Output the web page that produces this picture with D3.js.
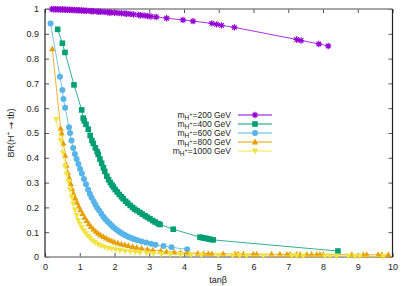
<!DOCTYPE html>
<html><head><meta charset="utf-8">
<script src="https://cdn.jsdelivr.net/npm/d3@7"></script>
<style>body{margin:0;background:#fff}svg{display:block}text{font-family:"Liberation Sans",Arial,sans-serif}</style>
</head><body>
<svg id="c" width="409" height="286"></svg>
<script>
const xTicks=[0,1,2,3,4,5,6,7,8,9,10];
const yTicks=[0,0.1,0.2,0.3,0.4,0.5,0.6,0.7,0.8,0.9,1];
const seriesNames=["200","400","600","800","1000"];
const colors=["#9400d3","#009e73","#56b4e9","#e69f00","#f0e442"];
const symbolsKind=["star","square","circle","tri","tridown"];

const h200=[[0.2,0.999],[0.25,0.999],[0.3,0.999],[0.35,0.999],[0.4,0.998],[0.45,0.998],[0.5,0.998],[0.55,0.998],[0.6,0.997],[0.65,0.997],[0.7,0.997],[0.75,0.996],[0.8,0.996],[0.85,0.996],[0.9,0.995],[0.95,0.995],[1.0,0.995],[1.05,0.994],[1.1,0.994],[1.15,0.993],[1.2,0.993],[1.3,0.992],[1.35,0.991],[1.4,0.991],[1.5,0.99],[1.55,0.989],[1.6,0.989],[1.7,0.988],[1.8,0.987],[1.85,0.986],[1.9,0.986],[2.0,0.985],[2.1,0.984],[2.2,0.983],[2.3,0.982],[2.35,0.981],[2.45,0.98],[2.55,0.978],[2.7,0.976],[2.75,0.975],[2.85,0.974],[2.95,0.972],[3.05,0.97],[3.2,0.968],[3.5,0.963],[3.97,0.956],[4.26,0.951],[4.8,0.942],[4.94,0.938],[5.08,0.934],[5.45,0.926],[7.24,0.877],[7.37,0.873],[7.88,0.859],[8.15,0.851]];
const h400=[[0.365,0.918],[0.50,0.862],[0.575,0.825],[0.835,0.694],[1.056,0.593],[1.10,0.56],[1.13,0.549],[1.18,0.535],[1.246,0.515],[1.30,0.49],[1.35,0.47],[1.39,0.458],[1.45,0.44],[1.50,0.425],[1.53,0.414],[1.58,0.395],[1.63,0.378],[1.68,0.36],[1.72,0.345],[1.78,0.326],[1.83,0.312],[1.88,0.30],[1.93,0.29],[1.97,0.282],[2.02,0.272],[2.08,0.262],[2.14,0.252],[2.20,0.243],[2.25,0.235],[2.32,0.225],[2.38,0.217],[2.45,0.208],[2.52,0.2],[2.58,0.193],[2.65,0.187],[2.73,0.18],[2.80,0.173],[2.88,0.166],[2.95,0.16],[3.02,0.154],[3.10,0.147],[3.17,0.141],[3.25,0.135],[3.31,0.131],[3.69,0.112],[4.46,0.08],[4.52,0.078],[4.58,0.076],[4.64,0.075],[4.70,0.073],[4.76,0.071],[4.84,0.069],[8.43,0.024]];
const h600=[[0.16,0.942],[0.43,0.727],[0.50,0.673],[0.53,0.637],[0.58,0.602],[0.69,0.523],[0.72,0.5],[0.76,0.47],[0.81,0.44],[0.86,0.415],[0.91,0.395],[0.96,0.375],[1.01,0.355],[1.06,0.337],[1.12,0.315],[1.18,0.293],[1.24,0.272],[1.29,0.255],[1.34,0.24],[1.40,0.225],[1.45,0.211],[1.50,0.199],[1.56,0.187],[1.62,0.174],[1.68,0.162],[1.74,0.152],[1.80,0.143],[1.86,0.135],[1.92,0.127],[1.97,0.12],[2.03,0.113],[2.10,0.106],[2.16,0.1],[2.22,0.095],[2.28,0.09],[2.35,0.085],[2.42,0.08],[2.50,0.076],[2.57,0.072],[2.66,0.068],[2.78,0.063],[2.91,0.058],[3.05,0.053],[3.18,0.049],[3.41,0.044],[3.64,0.039],[4.09,0.031]];
const h800=[[0.21,0.839],[0.45,0.519],[0.48,0.5],[0.53,0.458],[0.58,0.41],[0.62,0.37],[0.66,0.34],[0.70,0.318],[0.74,0.296],[0.78,0.275],[0.82,0.256],[0.87,0.237],[0.92,0.22],[0.97,0.204],[1.02,0.19],[1.08,0.175],[1.14,0.16],[1.20,0.147],[1.26,0.134],[1.32,0.123],[1.39,0.112],[1.46,0.103],[1.53,0.095],[1.60,0.088],[1.68,0.082],[1.76,0.076],[1.84,0.07],[1.92,0.065],[2.00,0.06],[2.10,0.056],[2.20,0.052],[2.30,0.049],[2.40,0.046],[2.52,0.042],[2.64,0.039],[2.78,0.035],[2.95,0.031],[3.10,0.028],[3.33,0.025],[3.50,0.022],[3.72,0.02],[3.90,0.018],[4.10,0.016],[4.4,0.015],[4.56,0.014],[4.70,0.014],[4.80,0.013],[5.13,0.013],[5.47,0.012],[5.56,0.012],[5.71,0.012],[5.99,0.011],[6.09,0.011],[6.52,0.011],[6.76,0.011],[6.96,0.01],[7.05,0.01],[7.24,0.01],[7.34,0.01],[7.53,0.01],[7.67,0.01],[7.82,0.01],[7.91,0.01],[8.01,0.01],[8.83,0.009],[9.16,0.009],[9.26,0.009],[9.59,0.009],[9.69,0.009],[9.88,0.009]];
const h1000=[[0.32,0.555],[0.45,0.47],[0.52,0.42],[0.58,0.365],[0.62,0.335],[0.67,0.305],[0.72,0.272],[0.77,0.242],[0.81,0.215],[0.86,0.19],[0.91,0.168],[0.96,0.148],[1.01,0.132],[1.06,0.118],[1.12,0.105],[1.18,0.094],[1.24,0.084],[1.30,0.075],[1.37,0.066],[1.44,0.059],[1.53,0.051],[1.62,0.045],[1.72,0.04],[1.82,0.036],[1.92,0.033],[2.04,0.03],[2.16,0.027],[2.30,0.024],[2.45,0.022],[2.60,0.02],[2.73,0.018],[2.93,0.016],[3.12,0.014],[3.35,0.012],[3.6,0.011],[3.9,0.01],[4.2,0.009],[4.5,0.008],[4.99,0.007],[5.4,0.006],[5.6,0.006],[5.8,0.006],[6.28,0.005],[7.1,0.005],[7.24,0.005],[7.43,0.004],[8.06,0.004],[8.2,0.004],[8.39,0.004],[8.73,0.004],[8.92,0.003],[9.06,0.003],[9.74,0.003]];
const allSeries=[h200,h400,h600,h800,h1000];

const svg=d3.select("#c");
const x=d3.scaleLinear().domain([0,10]).range([45,392.5]);
const y=d3.scaleLinear().domain([0,1]).range([257,9]);

const fs=9;
const gx=svg.append("g").attr("transform","translate(0,257)").call(d3.axisBottom(x).tickValues(xTicks).tickSize(-4).tickPadding(7).tickFormat(d3.format("~g")));
const gy=svg.append("g").attr("transform","translate(45,0)").call(d3.axisLeft(y).tickValues(yTicks).tickSize(-4).tickPadding(6).tickFormat(d3.format("~g")));
const gx2=svg.append("g").attr("transform","translate(0,9)").call(d3.axisTop(x).tickValues(xTicks).tickSize(-4).tickFormat(""));
const gy2=svg.append("g").attr("transform","translate(392.5,0)").call(d3.axisRight(y).tickValues(yTicks).tickSize(-4).tickFormat(""));
[gx,gy,gx2,gy2].forEach(g=>{g.select(".domain").remove();g.selectAll(".tick line").attr("stroke","#555");g.selectAll("text").attr("font-size",fs).attr("fill","#222").attr("font-family","Liberation Sans, Arial, sans-serif");});

svg.append("line").attr("x1",45).attr("x2",392.5).attr("y1",9).attr("y2",9).attr("stroke","#888").attr("stroke-width",1.3);
svg.append("line").attr("x1",45).attr("x2",392.5).attr("y1",257).attr("y2",257).attr("stroke","#888").attr("stroke-width",1.6);
svg.append("line").attr("x1",45).attr("x2",45).attr("y1",9).attr("y2",257).attr("stroke","#222").attr("stroke-width",1.2);
svg.append("line").attr("x1",392.5).attr("x2",392.5).attr("y1",9).attr("y2",257).attr("stroke","#222").attr("stroke-width",1.2);

function drawSym(g,kind,cx,cy,col){
  const s=g.append("g").attr("transform",`translate(${cx},${cy})`);
  if(kind==="star"){
    s.append("path").attr("d","M-3.2,0H3.2M0,-3.2V3.2M-2.3,-2.3L2.3,2.3M-2.3,2.3L2.3,-2.3").attr("stroke",col).attr("stroke-width",1.2).attr("fill","none");
  } else if(kind==="square"){
    s.append("rect").attr("x",-2.8).attr("y",-2.8).attr("width",5.6).attr("height",5.6).attr("fill",col);
  } else if(kind==="circle"){
    s.append("circle").attr("r",3).attr("fill",col);
  } else if(kind==="tri"){
    s.append("path").attr("d","M0,-3.4L3.1,2.4L-3.1,2.4Z").attr("fill",col);
  } else {
    s.append("path").attr("d","M0,3.4L3.1,-2.4L-3.1,-2.4Z").attr("fill",col);
  }
}

const line=d3.line().x(d=>x(d[0])).y(d=>y(d[1]));
const plot=svg.append("g");
allSeries.forEach((data,i)=>{
  plot.append("path").datum(data).attr("d",line).attr("fill","none").attr("stroke",colors[i]).attr("stroke-width",1).attr("stroke-opacity",0.8);
  data.forEach(d=>drawSym(plot,symbolsKind[i],x(d[0]),y(d[1]),colors[i]));
});

// legend
const lg=svg.append("g");
seriesNames.forEach((n,i)=>{
  const yy=115+i*9;
  const t=lg.append("text").attr("x",231).attr("y",yy+3).attr("text-anchor","end").attr("font-size",8.5).attr("fill","#222");
  t.append("tspan").text("m");
  t.append("tspan").attr("dy",2).attr("font-size",6.5).text("H");
  t.append("tspan").attr("dy",-4.4).attr("font-size",5.5).text("+");
  t.append("tspan").attr("dy",2.4).text("="+n+" GeV");
  lg.append("line").attr("x1",238).attr("x2",272).attr("y1",yy).attr("y2",yy).attr("stroke",colors[i]).attr("stroke-width",1);
  drawSym(lg,symbolsKind[i],255,yy,colors[i]);
});

// axis labels
const yl=svg.append("text").attr("transform","translate(14,133) rotate(-90)").attr("text-anchor","middle").attr("font-size",9).attr("fill","#222");
yl.append("tspan").text("BR(H");
yl.append("tspan").attr("dy",-3.5).attr("font-size",6.5).text("+");
yl.append("tspan").attr("dy",3.5).text(" ");
yl.append("tspan").attr("font-family","DejaVu Sans").text("\u2192");
yl.append("tspan").text(" tb)");
svg.append("text").attr("x",218).attr("y",283).attr("text-anchor","middle").attr("font-size",9).attr("fill","#222").text("tan\u03b2");
</script>
</body></html>
